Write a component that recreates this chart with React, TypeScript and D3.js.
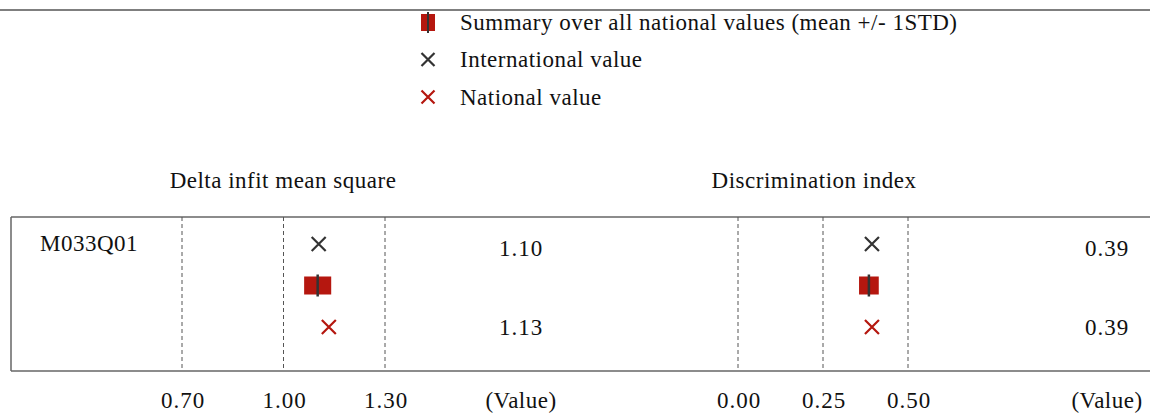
import React from 'react';
import * as d3 from 'd3';

// Data
const items = ['M033Q01'];
const metrics = ['Delta infit mean square', 'Discrimination index'];
const intlValues = [1.104, 0.394];
const natValues = [1.134, 0.394];
const summaryMean = [1.101, 0.385];
const summarySD = [0.04, 0.029];
const tickValues = [[0.7, 1.0, 1.3], [0, 0.25, 0.5]];
const rows = ['international', 'summary', 'national'];
const legendLabels = [
  'Summary over all national values (mean +/- 1STD)',
  'International value',
  'National value',
];

const W = 1150;
const H = 414;
const RED = '#b5170f';
const DARK = '#333333';
const FONT = '"Liberation Serif", "DejaVu Serif", serif';
const FS = 23;

const Cross: React.FC<{ x: number; y: number; color: string; r?: number }> = ({ x, y, color, r = 7 }) => (
  <path
    d={`M${x - r},${y - r}L${x + r},${y + r}M${x - r},${y + r}L${x + r},${y - r}`}
    stroke={color}
    strokeWidth={2.2}
    fill="none"
  />
);

const App: React.FC = () => {
  const panels = [
    { scale: d3.scaleLinear().domain([0.7, 1.3]).range([182, 385]), valueX: 521, headerX: 283 },
    { scale: d3.scaleLinear().domain([0, 0.5]).range([738, 908]), valueX: 1107, headerX: 814 },
  ];
  const yRow = d3.scalePoint<string>().domain(rows).range([244, 327]);
  const yLegend = d3.scalePoint<string>().domain(legendLabels).range([22, 97]);
  const boxTop = 217;
  const boxBottom = 371;
  const axisY = 400;
  const fmt = d3.format('.2f');
  const txt = { fontSize: FS, fill: '#111', letterSpacing: 0.5 };
  const num = { fontSize: FS, fill: '#111', letterSpacing: 1 };

  return (
    <svg width={W} height={H} style={{ position: 'absolute', left: 0, top: 0 }} fontFamily={FONT}>
      <rect width={W} height={H} fill="#fff" />
      {/* top rule */}
      <line x1={0} x2={W} y1={10} y2={10} stroke="#555" strokeWidth={1.5} />

      {/* legend */}
      {legendLabels.map((lab, i) => {
        const y = yLegend(lab)!;
        return (
          <g key={lab}>
            {i === 0 && (
              <g>
                <rect x={421} y={y - 8} width={14} height={17} fill={RED} />
                <line x1={428} x2={428} y1={y - 10} y2={y + 11} stroke={DARK} strokeWidth={2} />
              </g>
            )}
            {i === 1 && <Cross x={428} y={y} color={DARK} r={6.5} />}
            {i === 2 && <Cross x={428} y={y} color={RED} r={6.5} />}
            <text x={460} y={y} dy="0.33em" {...txt}>{lab}</text>
          </g>
        );
      })}

      {/* headers */}
      {metrics.map((m, i) => (
        <text key={m} x={panels[i].headerX} y={180} dy="0.33em" textAnchor="middle" {...txt}>
          {m}
        </text>
      ))}

      {/* table frame */}
      <line x1={11} x2={W} y1={boxTop} y2={boxTop} stroke="#666" strokeWidth={1.5} />
      <line x1={11} x2={W} y1={boxBottom} y2={boxBottom} stroke="#666" strokeWidth={1.5} />
      <line x1={11} x2={11} y1={boxTop} y2={boxBottom} stroke="#666" strokeWidth={1.5} />

      {items.map((it) => (
        <text key={it} x={89} y={243} dy="0.33em" textAnchor="middle" {...txt}>{it}</text>
      ))}

      {panels.map((p, i) => (
        <g key={i}>
          {tickValues[i].map((t) => (
            <g key={t}>
              <line
                x1={p.scale(t)}
                x2={p.scale(t)}
                y1={boxTop}
                y2={boxBottom}
                stroke="#555"
                strokeWidth={1}
                strokeDasharray="4,3"
              />
              <text x={p.scale(t) + 1} y={axisY} dy="0.33em" textAnchor="middle" {...num}>
                {fmt(t)}
              </text>
            </g>
          ))}
          <text x={p.valueX} y={axisY} dy="0.33em" textAnchor="middle" {...txt}>(Value)</text>

          {/* international */}
          <Cross x={p.scale(intlValues[i])} y={yRow('international')!} color={DARK} />
          <text x={p.valueX} y={yRow('international')! + 4} dy="0.33em" textAnchor="middle" {...num}>
            {fmt(intlValues[i])}
          </text>

          {/* summary */}
          <rect
            x={p.scale(summaryMean[i] - summarySD[i])}
            y={yRow('summary')! - 9}
            width={p.scale(summaryMean[i] + summarySD[i]) - p.scale(summaryMean[i] - summarySD[i])}
            height={18}
            fill={RED}
          />
          <line
            x1={p.scale(summaryMean[i])}
            x2={p.scale(summaryMean[i])}
            y1={yRow('summary')! - 11}
            y2={yRow('summary')! + 11}
            stroke={DARK}
            strokeWidth={2.5}
          />

          {/* national */}
          <Cross x={p.scale(natValues[i])} y={yRow('national')!} color={RED} />
          <text x={p.valueX} y={yRow('national')!} dy="0.33em" textAnchor="middle" {...num}>
            {fmt(natValues[i])}
          </text>
        </g>
      ))}
    </svg>
  );
};

export default App;
